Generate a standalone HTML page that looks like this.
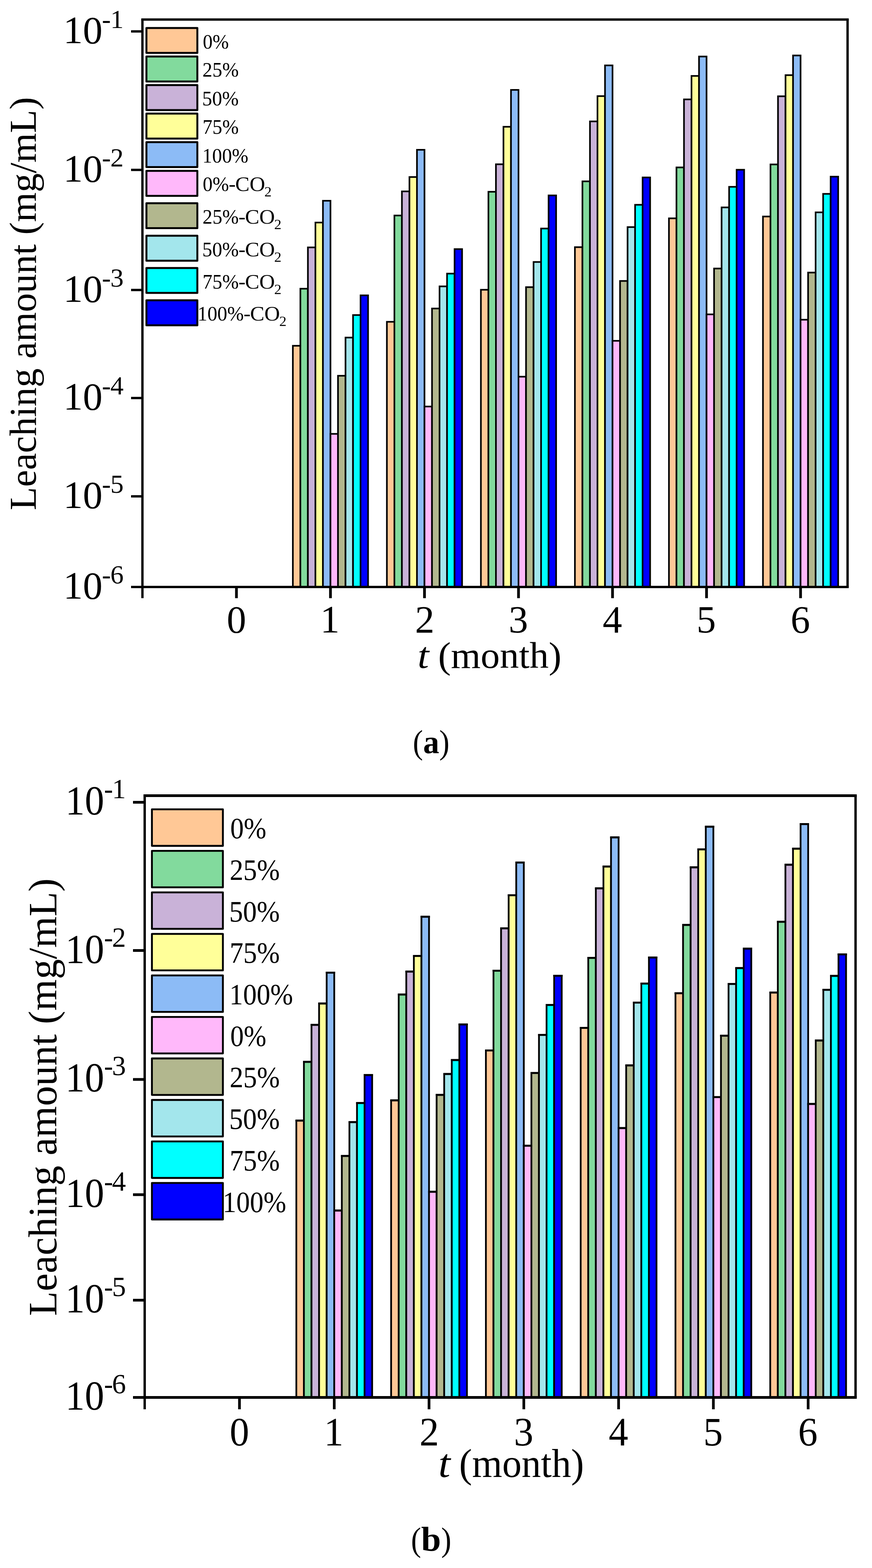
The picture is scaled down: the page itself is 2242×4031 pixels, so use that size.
<!DOCTYPE html>
<html lang="en"><head><meta charset="utf-8"><title>Leaching amount</title>
<style>
html,body{margin:0;padding:0;background:#fff;}
body{width:2242px;height:4031px;overflow:hidden;}
svg{display:block;}
text{white-space:pre;}
</style></head><body>
<svg width="2242" height="4031" viewBox="0 0 2242 4031" font-family="'Liberation Serif', serif" fill="#000" shape-rendering="auto">
<rect width="2242" height="4031" fill="#fff"/>
<rect x="752.97" y="888.9" width="19.34" height="620.1" fill="#FFC896" stroke="#000" stroke-width="4.2"/>
<rect x="772.31" y="742.2" width="19.34" height="766.8" fill="#82DA9D" stroke="#000" stroke-width="4.2"/>
<rect x="791.65" y="636" width="19.34" height="873" fill="#C9B2D8" stroke="#000" stroke-width="4.2"/>
<rect x="810.99" y="572.1" width="19.34" height="936.9" fill="#FFFF99" stroke="#000" stroke-width="4.2"/>
<rect x="830.33" y="516.1" width="19.34" height="992.9" fill="#8CBBF6" stroke="#000" stroke-width="4.2"/>
<rect x="849.67" y="1115.4" width="19.34" height="393.6" fill="#FFB8FA" stroke="#000" stroke-width="4.2"/>
<rect x="869.01" y="966" width="19.34" height="543" fill="#B2B78E" stroke="#000" stroke-width="4.2"/>
<rect x="888.34" y="867.8" width="19.34" height="641.2" fill="#A3E6EC" stroke="#000" stroke-width="4.2"/>
<rect x="907.68" y="809.9" width="19.34" height="699.1" fill="#00FFFF" stroke="#000" stroke-width="4.2"/>
<rect x="927.02" y="759.3" width="19.34" height="749.7" fill="#0000FF" stroke="#000" stroke-width="4.2"/>
<rect x="994.71" y="827.3" width="19.34" height="681.7" fill="#FFC896" stroke="#000" stroke-width="4.2"/>
<rect x="1014.05" y="554" width="19.34" height="955" fill="#82DA9D" stroke="#000" stroke-width="4.2"/>
<rect x="1033.38" y="492" width="19.34" height="1017" fill="#C9B2D8" stroke="#000" stroke-width="4.2"/>
<rect x="1052.72" y="455.1" width="19.34" height="1053.9" fill="#FFFF99" stroke="#000" stroke-width="4.2"/>
<rect x="1072.06" y="385.1" width="19.34" height="1123.9" fill="#8CBBF6" stroke="#000" stroke-width="4.2"/>
<rect x="1091.4" y="1045.1" width="19.34" height="463.9" fill="#FFB8FA" stroke="#000" stroke-width="4.2"/>
<rect x="1110.74" y="793.1" width="19.34" height="715.9" fill="#B2B78E" stroke="#000" stroke-width="4.2"/>
<rect x="1130.08" y="736.2" width="19.34" height="772.8" fill="#A3E6EC" stroke="#000" stroke-width="4.2"/>
<rect x="1149.42" y="703.4" width="19.34" height="805.6" fill="#00FFFF" stroke="#000" stroke-width="4.2"/>
<rect x="1168.75" y="640.4" width="19.34" height="868.6" fill="#0000FF" stroke="#000" stroke-width="4.2"/>
<rect x="1236.44" y="744.9" width="19.34" height="764.1" fill="#FFC896" stroke="#000" stroke-width="4.2"/>
<rect x="1255.78" y="493" width="19.34" height="1016" fill="#82DA9D" stroke="#000" stroke-width="4.2"/>
<rect x="1275.12" y="422.3" width="19.34" height="1086.7" fill="#C9B2D8" stroke="#000" stroke-width="4.2"/>
<rect x="1294.46" y="325.9" width="19.34" height="1183.1" fill="#FFFF99" stroke="#000" stroke-width="4.2"/>
<rect x="1313.79" y="231.1" width="19.34" height="1277.9" fill="#8CBBF6" stroke="#000" stroke-width="4.2"/>
<rect x="1333.13" y="968.4" width="19.34" height="540.6" fill="#FFB8FA" stroke="#000" stroke-width="4.2"/>
<rect x="1352.47" y="738.2" width="19.34" height="770.8" fill="#B2B78E" stroke="#000" stroke-width="4.2"/>
<rect x="1371.81" y="673.5" width="19.34" height="835.5" fill="#A3E6EC" stroke="#000" stroke-width="4.2"/>
<rect x="1391.15" y="587.5" width="19.34" height="921.5" fill="#00FFFF" stroke="#000" stroke-width="4.2"/>
<rect x="1410.49" y="502.4" width="19.34" height="1006.6" fill="#0000FF" stroke="#000" stroke-width="4.2"/>
<rect x="1478.17" y="635.4" width="19.34" height="873.6" fill="#FFC896" stroke="#000" stroke-width="4.2"/>
<rect x="1497.51" y="466.2" width="19.34" height="1042.8" fill="#82DA9D" stroke="#000" stroke-width="4.2"/>
<rect x="1516.85" y="312.1" width="19.34" height="1196.9" fill="#C9B2D8" stroke="#000" stroke-width="4.2"/>
<rect x="1536.19" y="247.1" width="19.34" height="1261.9" fill="#FFFF99" stroke="#000" stroke-width="4.2"/>
<rect x="1555.53" y="168.1" width="19.34" height="1340.9" fill="#8CBBF6" stroke="#000" stroke-width="4.2"/>
<rect x="1574.87" y="876.2" width="19.34" height="632.8" fill="#FFB8FA" stroke="#000" stroke-width="4.2"/>
<rect x="1594.21" y="722.3" width="19.34" height="786.7" fill="#B2B78E" stroke="#000" stroke-width="4.2"/>
<rect x="1613.54" y="583.8" width="19.34" height="925.2" fill="#A3E6EC" stroke="#000" stroke-width="4.2"/>
<rect x="1632.88" y="526.5" width="19.34" height="982.5" fill="#00FFFF" stroke="#000" stroke-width="4.2"/>
<rect x="1652.22" y="456.2" width="19.34" height="1052.8" fill="#0000FF" stroke="#000" stroke-width="4.2"/>
<rect x="1719.91" y="561.3" width="19.34" height="947.7" fill="#FFC896" stroke="#000" stroke-width="4.2"/>
<rect x="1739.25" y="430.4" width="19.34" height="1078.6" fill="#82DA9D" stroke="#000" stroke-width="4.2"/>
<rect x="1758.58" y="255.5" width="19.34" height="1253.5" fill="#C9B2D8" stroke="#000" stroke-width="4.2"/>
<rect x="1777.92" y="195.2" width="19.34" height="1313.8" fill="#FFFF99" stroke="#000" stroke-width="4.2"/>
<rect x="1797.26" y="145.3" width="19.34" height="1363.7" fill="#8CBBF6" stroke="#000" stroke-width="4.2"/>
<rect x="1816.6" y="808.2" width="19.34" height="700.8" fill="#FFB8FA" stroke="#000" stroke-width="4.2"/>
<rect x="1835.94" y="690.3" width="19.34" height="818.7" fill="#B2B78E" stroke="#000" stroke-width="4.2"/>
<rect x="1855.28" y="533.2" width="19.34" height="975.8" fill="#A3E6EC" stroke="#000" stroke-width="4.2"/>
<rect x="1874.62" y="480.3" width="19.34" height="1028.7" fill="#00FFFF" stroke="#000" stroke-width="4.2"/>
<rect x="1893.95" y="436.4" width="19.34" height="1072.6" fill="#0000FF" stroke="#000" stroke-width="4.2"/>
<rect x="1961.64" y="556.6" width="19.34" height="952.4" fill="#FFC896" stroke="#000" stroke-width="4.2"/>
<rect x="1980.98" y="422.7" width="19.34" height="1086.3" fill="#82DA9D" stroke="#000" stroke-width="4.2"/>
<rect x="2000.32" y="247.5" width="19.34" height="1261.5" fill="#C9B2D8" stroke="#000" stroke-width="4.2"/>
<rect x="2019.66" y="193.2" width="19.34" height="1315.8" fill="#FFFF99" stroke="#000" stroke-width="4.2"/>
<rect x="2038.99" y="142.6" width="19.34" height="1366.4" fill="#8CBBF6" stroke="#000" stroke-width="4.2"/>
<rect x="2058.33" y="821.9" width="19.34" height="687.1" fill="#FFB8FA" stroke="#000" stroke-width="4.2"/>
<rect x="2077.67" y="700.7" width="19.34" height="808.3" fill="#B2B78E" stroke="#000" stroke-width="4.2"/>
<rect x="2097.01" y="545.9" width="19.34" height="963.1" fill="#A3E6EC" stroke="#000" stroke-width="4.2"/>
<rect x="2116.35" y="498.4" width="19.34" height="1010.6" fill="#00FFFF" stroke="#000" stroke-width="4.2"/>
<rect x="2135.69" y="454.1" width="19.34" height="1054.9" fill="#0000FF" stroke="#000" stroke-width="4.2"/>
<path d="M363.2 50.2H2182.2M363.2 1509H2182.2" stroke="#000" stroke-width="5.9" fill="none"/>
<path d="M366.2 50.2V1509M2179.2 50.2V1509" stroke="#000" stroke-width="6" fill="none"/>
<path d="M337 80.8H366.2 M337 436.8H366.2 M337 745.6H366.2 M337 1023.2H366.2 M337 1275.9H366.2 M337 1509H366.2" stroke="#000" stroke-width="6" fill="none"/>
<path d="M607.93 1509V1537.7 M849.67 1509V1537.7 M1091.4 1509V1537.7 M1333.13 1509V1537.7 M1574.87 1509V1537.7 M1816.6 1509V1537.7 M2058.33 1509V1537.7" stroke="#000" stroke-width="7" fill="none"/>
<path d="M366.2 1509V1537.7" stroke="#000" stroke-width="6" fill="none"/>
<text><tspan x="162.55" y="111" font-size="100.2" textLength="101.14" lengthAdjust="spacingAndGlyphs">10</tspan><tspan x="262.12" y="71.9" font-size="68.2" textLength="22.93" lengthAdjust="spacingAndGlyphs">-</tspan><tspan x="283.8" y="71.9" font-size="68.2">1</tspan></text>
<text><tspan x="162.55" y="467" font-size="100.2" textLength="101.14" lengthAdjust="spacingAndGlyphs">10</tspan><tspan x="262.12" y="427.9" font-size="68.2" textLength="22.93" lengthAdjust="spacingAndGlyphs">-</tspan><tspan x="283.8" y="427.9" font-size="68.2">2</tspan></text>
<text><tspan x="162.55" y="776" font-size="100.2" textLength="101.14" lengthAdjust="spacingAndGlyphs">10</tspan><tspan x="262.12" y="736.9" font-size="68.2" textLength="22.93" lengthAdjust="spacingAndGlyphs">-</tspan><tspan x="283.8" y="736.9" font-size="68.2">3</tspan></text>
<text><tspan x="162.55" y="1053" font-size="100.2" textLength="101.14" lengthAdjust="spacingAndGlyphs">10</tspan><tspan x="262.12" y="1013.9" font-size="68.2" textLength="22.93" lengthAdjust="spacingAndGlyphs">-</tspan><tspan x="283.8" y="1013.9" font-size="68.2">4</tspan></text>
<text><tspan x="162.55" y="1306" font-size="100.2" textLength="101.14" lengthAdjust="spacingAndGlyphs">10</tspan><tspan x="262.12" y="1266.9" font-size="68.2" textLength="22.93" lengthAdjust="spacingAndGlyphs">-</tspan><tspan x="283.8" y="1266.9" font-size="68.2">5</tspan></text>
<text><tspan x="162.55" y="1539" font-size="100.2" textLength="101.14" lengthAdjust="spacingAndGlyphs">10</tspan><tspan x="262.12" y="1499.9" font-size="68.2" textLength="22.93" lengthAdjust="spacingAndGlyphs">-</tspan><tspan x="283.8" y="1499.9" font-size="68.2">6</tspan></text>
<text transform="translate(582.93 1626) scale(1.0000 1.0000)" font-size="100">0</text>
<text transform="translate(823.29 1626) scale(1.0000 1.0000)" font-size="100">1</text>
<text transform="translate(1067.02 1626) scale(1.0000 1.0000)" font-size="100">2</text>
<text transform="translate(1307.76 1626) scale(1.0000 1.0000)" font-size="100">3</text>
<text transform="translate(1549.62 1626) scale(1.0000 1.0000)" font-size="100">4</text>
<text transform="translate(1790.72 1626) scale(1.0000 1.0000)" font-size="100">5</text>
<text transform="translate(2032.71 1626) scale(1.0000 1.0000)" font-size="100">6</text>
<text transform="translate(92 1311.8) rotate(-90) scale(1.0012 1)" font-size="98">Leaching amount (mg/mL)</text>
<text><tspan x="1073.64" y="1717.3" font-size="96" font-style="italic" textLength="29.38" lengthAdjust="spacingAndGlyphs">t</tspan><tspan x="1101.81" y="1717.3" font-size="96" textLength="341.75" lengthAdjust="spacingAndGlyphs"> (month)</tspan></text>
<text><tspan x="1061.57" y="1936.7" font-size="86.2" textLength="26.12" lengthAdjust="spacingAndGlyphs">(</tspan><tspan x="1088.11" y="1936.3" font-size="85" font-weight="bold" textLength="41.33" lengthAdjust="spacingAndGlyphs">a</tspan><tspan x="1129.23" y="1936.7" font-size="86.2" textLength="26.38" lengthAdjust="spacingAndGlyphs">)</tspan></text>
<rect x="376.5" y="71.9" width="130.9" height="64.2" fill="#FFC896" stroke="#000" stroke-width="5" stroke-linejoin="round"/>
<rect x="376.5" y="145.3" width="130.9" height="64.2" fill="#82DA9D" stroke="#000" stroke-width="5" stroke-linejoin="round"/>
<rect x="376.5" y="218.7" width="130.9" height="64.2" fill="#C9B2D8" stroke="#000" stroke-width="5" stroke-linejoin="round"/>
<rect x="376.5" y="292.1" width="130.9" height="64.1" fill="#FFFF99" stroke="#000" stroke-width="5" stroke-linejoin="round"/>
<rect x="376.5" y="365.5" width="130.9" height="64" fill="#8CBBF6" stroke="#000" stroke-width="5" stroke-linejoin="round"/>
<rect x="376.5" y="439.2" width="130.9" height="64.3" fill="#FFB8FA" stroke="#000" stroke-width="5" stroke-linejoin="round"/>
<rect x="376.5" y="522.5" width="130.9" height="64" fill="#B2B78E" stroke="#000" stroke-width="5" stroke-linejoin="round"/>
<rect x="376.5" y="606" width="130.9" height="64.2" fill="#A3E6EC" stroke="#000" stroke-width="5" stroke-linejoin="round"/>
<rect x="376.5" y="688.9" width="130.9" height="64.2" fill="#00FFFF" stroke="#000" stroke-width="5" stroke-linejoin="round"/>
<rect x="376.5" y="772" width="130.9" height="64.3" fill="#0000FF" stroke="#000" stroke-width="5" stroke-linejoin="round"/>
<text transform="translate(521.42 124.8) scale(0.9511 1.0000)" font-size="52.8">0%</text>
<text transform="translate(520.54 196.8) scale(0.9634 1.0000)" font-size="52.8">25%</text>
<text transform="translate(519.75 271.4) scale(0.9717 1.0000)" font-size="52.8">50%</text>
<text transform="translate(520.7 343.9) scale(0.9617 1.0000)" font-size="52.8">75%</text>
<text transform="translate(520.26 418.2) scale(0.9605 1.0000)" font-size="52.8">100%</text>
<text><tspan x="521.3" y="491" font-size="52.8" textLength="67.47" lengthAdjust="spacingAndGlyphs">0%</tspan><tspan x="588.08" y="491" font-size="52.8" textLength="17.93" lengthAdjust="spacingAndGlyphs">-</tspan><tspan x="604.89" y="491" font-size="52.8" textLength="76.78" lengthAdjust="spacingAndGlyphs">CO</tspan><tspan x="679.82" y="505" font-size="36" textLength="18.63" lengthAdjust="spacingAndGlyphs">2</tspan></text>
<text><tspan x="520.84" y="574.8" font-size="52.8" textLength="93.03" lengthAdjust="spacingAndGlyphs">25%</tspan><tspan x="613.18" y="574.8" font-size="52.8" textLength="17.93" lengthAdjust="spacingAndGlyphs">-</tspan><tspan x="629.99" y="574.8" font-size="52.8" textLength="76.78" lengthAdjust="spacingAndGlyphs">CO</tspan><tspan x="704.92" y="588.8" font-size="36" textLength="18.63" lengthAdjust="spacingAndGlyphs">2</tspan></text>
<text><tspan x="520.06" y="658.6" font-size="52.8" textLength="93.83" lengthAdjust="spacingAndGlyphs">50%</tspan><tspan x="613.18" y="658.6" font-size="52.8" textLength="17.93" lengthAdjust="spacingAndGlyphs">-</tspan><tspan x="629.99" y="658.6" font-size="52.8" textLength="76.78" lengthAdjust="spacingAndGlyphs">CO</tspan><tspan x="704.92" y="672.6" font-size="36" textLength="18.63" lengthAdjust="spacingAndGlyphs">2</tspan></text>
<text><tspan x="520.7" y="741.5" font-size="52.8" textLength="93.18" lengthAdjust="spacingAndGlyphs">75%</tspan><tspan x="613.18" y="741.5" font-size="52.8" textLength="17.93" lengthAdjust="spacingAndGlyphs">-</tspan><tspan x="629.99" y="741.5" font-size="52.8" textLength="76.78" lengthAdjust="spacingAndGlyphs">CO</tspan><tspan x="704.92" y="755.5" font-size="36" textLength="18.63" lengthAdjust="spacingAndGlyphs">2</tspan></text>
<text><tspan x="507.84" y="824.1" font-size="52.8" textLength="119.05" lengthAdjust="spacingAndGlyphs">100%</tspan><tspan x="626.18" y="824.1" font-size="52.8" textLength="17.93" lengthAdjust="spacingAndGlyphs">-</tspan><tspan x="642.99" y="824.1" font-size="52.8" textLength="76.78" lengthAdjust="spacingAndGlyphs">CO</tspan><tspan x="717.92" y="838.1" font-size="36" textLength="18.63" lengthAdjust="spacingAndGlyphs">2</tspan></text>
<rect x="761.91" y="2880.65" width="19.5" height="711.85" fill="#FFC896" stroke="#000" stroke-width="4.5"/>
<rect x="759.66" y="2878.4" width="24" height="5"/>
<rect x="781.4" y="2729.65" width="19.5" height="862.85" fill="#82DA9D" stroke="#000" stroke-width="4.5"/>
<rect x="779.15" y="2727.4" width="24" height="5"/>
<rect x="800.9" y="2634.55" width="19.5" height="957.95" fill="#C9B2D8" stroke="#000" stroke-width="4.5"/>
<rect x="798.65" y="2632.3" width="24" height="5"/>
<rect x="820.4" y="2579.65" width="19.5" height="1012.85" fill="#FFFF99" stroke="#000" stroke-width="4.5"/>
<rect x="818.15" y="2577.4" width="24" height="5"/>
<rect x="839.89" y="2500.25" width="19.5" height="1092.25" fill="#8CBBF6" stroke="#000" stroke-width="4.5"/>
<rect x="837.64" y="2498" width="24" height="5"/>
<rect x="859.39" y="3111.85" width="19.5" height="480.65" fill="#FFB8FA" stroke="#000" stroke-width="4.5"/>
<rect x="857.14" y="3109.6" width="24" height="5"/>
<rect x="878.88" y="2971.55" width="19.5" height="620.95" fill="#B2B78E" stroke="#000" stroke-width="4.5"/>
<rect x="876.63" y="2969.3" width="24" height="5"/>
<rect x="898.38" y="2884.55" width="19.5" height="707.95" fill="#A3E6EC" stroke="#000" stroke-width="4.5"/>
<rect x="896.13" y="2882.3" width="24" height="5"/>
<rect x="917.87" y="2835.45" width="19.5" height="757.05" fill="#00FFFF" stroke="#000" stroke-width="4.5"/>
<rect x="915.62" y="2833.2" width="24" height="5"/>
<rect x="937.37" y="2763.55" width="19.5" height="828.95" fill="#0000FF" stroke="#000" stroke-width="4.5"/>
<rect x="935.12" y="2761.3" width="24" height="5"/>
<rect x="1005.6" y="2828.65" width="19.5" height="763.85" fill="#FFC896" stroke="#000" stroke-width="4.5"/>
<rect x="1003.35" y="2826.4" width="24" height="5"/>
<rect x="1025.1" y="2556.55" width="19.5" height="1035.95" fill="#82DA9D" stroke="#000" stroke-width="4.5"/>
<rect x="1022.85" y="2554.3" width="24" height="5"/>
<rect x="1044.59" y="2497.55" width="19.5" height="1094.95" fill="#C9B2D8" stroke="#000" stroke-width="4.5"/>
<rect x="1042.34" y="2495.3" width="24" height="5"/>
<rect x="1064.09" y="2457.35" width="19.5" height="1135.15" fill="#FFFF99" stroke="#000" stroke-width="4.5"/>
<rect x="1061.84" y="2455.1" width="24" height="5"/>
<rect x="1083.58" y="2356.55" width="19.5" height="1235.95" fill="#8CBBF6" stroke="#000" stroke-width="4.5"/>
<rect x="1081.33" y="2354.3" width="24" height="5"/>
<rect x="1103.08" y="3063.65" width="19.5" height="528.85" fill="#FFB8FA" stroke="#000" stroke-width="4.5"/>
<rect x="1100.83" y="3061.4" width="24" height="5"/>
<rect x="1122.58" y="2814.55" width="19.5" height="777.95" fill="#B2B78E" stroke="#000" stroke-width="4.5"/>
<rect x="1120.33" y="2812.3" width="24" height="5"/>
<rect x="1142.07" y="2760.85" width="19.5" height="831.65" fill="#A3E6EC" stroke="#000" stroke-width="4.5"/>
<rect x="1139.82" y="2758.6" width="24" height="5"/>
<rect x="1161.57" y="2724.95" width="19.5" height="867.55" fill="#00FFFF" stroke="#000" stroke-width="4.5"/>
<rect x="1159.32" y="2722.7" width="24" height="5"/>
<rect x="1181.06" y="2633.55" width="19.5" height="958.95" fill="#0000FF" stroke="#000" stroke-width="4.5"/>
<rect x="1178.81" y="2631.3" width="24" height="5"/>
<rect x="1249.3" y="2700.25" width="19.5" height="892.25" fill="#FFC896" stroke="#000" stroke-width="4.5"/>
<rect x="1247.05" y="2698" width="24" height="5"/>
<rect x="1268.79" y="2495.25" width="19.5" height="1097.25" fill="#82DA9D" stroke="#000" stroke-width="4.5"/>
<rect x="1266.54" y="2493" width="24" height="5"/>
<rect x="1288.29" y="2386.35" width="19.5" height="1206.15" fill="#C9B2D8" stroke="#000" stroke-width="4.5"/>
<rect x="1286.04" y="2384.1" width="24" height="5"/>
<rect x="1307.78" y="2301.25" width="19.5" height="1291.25" fill="#FFFF99" stroke="#000" stroke-width="4.5"/>
<rect x="1305.53" y="2299" width="24" height="5"/>
<rect x="1327.28" y="2217.15" width="19.5" height="1375.35" fill="#8CBBF6" stroke="#000" stroke-width="4.5"/>
<rect x="1325.03" y="2214.9" width="24" height="5"/>
<rect x="1346.77" y="2945.15" width="19.5" height="647.35" fill="#FFB8FA" stroke="#000" stroke-width="4.5"/>
<rect x="1344.52" y="2942.9" width="24" height="5"/>
<rect x="1366.27" y="2758.15" width="19.5" height="834.35" fill="#B2B78E" stroke="#000" stroke-width="4.5"/>
<rect x="1364.02" y="2755.9" width="24" height="5"/>
<rect x="1385.76" y="2660.35" width="19.5" height="932.15" fill="#A3E6EC" stroke="#000" stroke-width="4.5"/>
<rect x="1383.51" y="2658.1" width="24" height="5"/>
<rect x="1405.26" y="2583.35" width="19.5" height="1009.15" fill="#00FFFF" stroke="#000" stroke-width="4.5"/>
<rect x="1403.01" y="2581.1" width="24" height="5"/>
<rect x="1424.76" y="2508.25" width="19.5" height="1084.25" fill="#0000FF" stroke="#000" stroke-width="4.5"/>
<rect x="1422.51" y="2506" width="24" height="5"/>
<rect x="1492.99" y="2642.25" width="19.5" height="950.25" fill="#FFC896" stroke="#000" stroke-width="4.5"/>
<rect x="1490.74" y="2640" width="24" height="5"/>
<rect x="1512.48" y="2462.35" width="19.5" height="1130.15" fill="#82DA9D" stroke="#000" stroke-width="4.5"/>
<rect x="1510.23" y="2460.1" width="24" height="5"/>
<rect x="1531.98" y="2283.55" width="19.5" height="1308.95" fill="#C9B2D8" stroke="#000" stroke-width="4.5"/>
<rect x="1529.73" y="2281.3" width="24" height="5"/>
<rect x="1551.48" y="2227.55" width="19.5" height="1364.95" fill="#FFFF99" stroke="#000" stroke-width="4.5"/>
<rect x="1549.23" y="2225.3" width="24" height="5"/>
<rect x="1570.97" y="2152.55" width="19.5" height="1439.95" fill="#8CBBF6" stroke="#000" stroke-width="4.5"/>
<rect x="1568.72" y="2150.3" width="24" height="5"/>
<rect x="1590.47" y="2899.85" width="19.5" height="692.65" fill="#FFB8FA" stroke="#000" stroke-width="4.5"/>
<rect x="1588.22" y="2897.6" width="24" height="5"/>
<rect x="1609.96" y="2738.75" width="19.5" height="853.75" fill="#B2B78E" stroke="#000" stroke-width="4.5"/>
<rect x="1607.71" y="2736.5" width="24" height="5"/>
<rect x="1629.46" y="2577.25" width="19.5" height="1015.25" fill="#A3E6EC" stroke="#000" stroke-width="4.5"/>
<rect x="1627.21" y="2575" width="24" height="5"/>
<rect x="1648.95" y="2528.35" width="19.5" height="1064.15" fill="#00FFFF" stroke="#000" stroke-width="4.5"/>
<rect x="1646.7" y="2526.1" width="24" height="5"/>
<rect x="1668.45" y="2461.35" width="19.5" height="1131.15" fill="#0000FF" stroke="#000" stroke-width="4.5"/>
<rect x="1666.2" y="2459.1" width="24" height="5"/>
<rect x="1736.68" y="2553.15" width="19.5" height="1039.35" fill="#FFC896" stroke="#000" stroke-width="4.5"/>
<rect x="1734.43" y="2550.9" width="24" height="5"/>
<rect x="1756.18" y="2377.65" width="19.5" height="1214.85" fill="#82DA9D" stroke="#000" stroke-width="4.5"/>
<rect x="1753.93" y="2375.4" width="24" height="5"/>
<rect x="1775.67" y="2229.55" width="19.5" height="1362.95" fill="#C9B2D8" stroke="#000" stroke-width="4.5"/>
<rect x="1773.42" y="2227.3" width="24" height="5"/>
<rect x="1795.17" y="2183.35" width="19.5" height="1409.15" fill="#FFFF99" stroke="#000" stroke-width="4.5"/>
<rect x="1792.92" y="2181.1" width="24" height="5"/>
<rect x="1814.66" y="2125.05" width="19.5" height="1467.45" fill="#8CBBF6" stroke="#000" stroke-width="4.5"/>
<rect x="1812.41" y="2122.8" width="24" height="5"/>
<rect x="1834.16" y="2820.15" width="19.5" height="772.35" fill="#FFB8FA" stroke="#000" stroke-width="4.5"/>
<rect x="1831.91" y="2817.9" width="24" height="5"/>
<rect x="1853.66" y="2662.35" width="19.5" height="930.15" fill="#B2B78E" stroke="#000" stroke-width="4.5"/>
<rect x="1851.41" y="2660.1" width="24" height="5"/>
<rect x="1873.15" y="2529.35" width="19.5" height="1063.15" fill="#A3E6EC" stroke="#000" stroke-width="4.5"/>
<rect x="1870.9" y="2527.1" width="24" height="5"/>
<rect x="1892.65" y="2488.55" width="19.5" height="1103.95" fill="#00FFFF" stroke="#000" stroke-width="4.5"/>
<rect x="1890.4" y="2486.3" width="24" height="5"/>
<rect x="1912.14" y="2438.65" width="19.5" height="1153.85" fill="#0000FF" stroke="#000" stroke-width="4.5"/>
<rect x="1909.89" y="2436.4" width="24" height="5"/>
<rect x="1980.38" y="2551.45" width="19.5" height="1041.05" fill="#FFC896" stroke="#000" stroke-width="4.5"/>
<rect x="1978.13" y="2549.2" width="24" height="5"/>
<rect x="1999.87" y="2369.55" width="19.5" height="1222.95" fill="#82DA9D" stroke="#000" stroke-width="4.5"/>
<rect x="1997.62" y="2367.3" width="24" height="5"/>
<rect x="2019.37" y="2222.85" width="19.5" height="1369.65" fill="#C9B2D8" stroke="#000" stroke-width="4.5"/>
<rect x="2017.12" y="2220.6" width="24" height="5"/>
<rect x="2038.86" y="2181.65" width="19.5" height="1410.85" fill="#FFFF99" stroke="#000" stroke-width="4.5"/>
<rect x="2036.61" y="2179.4" width="24" height="5"/>
<rect x="2058.36" y="2118.35" width="19.5" height="1474.15" fill="#8CBBF6" stroke="#000" stroke-width="4.5"/>
<rect x="2056.11" y="2116.1" width="24" height="5"/>
<rect x="2077.85" y="2837.85" width="19.5" height="754.65" fill="#FFB8FA" stroke="#000" stroke-width="4.5"/>
<rect x="2075.6" y="2835.6" width="24" height="5"/>
<rect x="2097.35" y="2674.75" width="19.5" height="917.75" fill="#B2B78E" stroke="#000" stroke-width="4.5"/>
<rect x="2095.1" y="2672.5" width="24" height="5"/>
<rect x="2116.84" y="2544.45" width="19.5" height="1048.05" fill="#A3E6EC" stroke="#000" stroke-width="4.5"/>
<rect x="2114.59" y="2542.2" width="24" height="5"/>
<rect x="2136.34" y="2508.65" width="19.5" height="1083.85" fill="#00FFFF" stroke="#000" stroke-width="4.5"/>
<rect x="2134.09" y="2506.4" width="24" height="5"/>
<rect x="2155.84" y="2453.35" width="19.5" height="1139.15" fill="#0000FF" stroke="#000" stroke-width="4.5"/>
<rect x="2153.59" y="2451.1" width="24" height="5"/>
<path d="M368.95 2045.45H2202.75M368.95 3592.5H2202.75" stroke="#000" stroke-width="7" fill="none"/>
<path d="M372 2045.45V3592.5M2199.7 2045.45V3592.5" stroke="#000" stroke-width="6.1" fill="none"/>
<path d="M342 2062.6H372 M342 2443.5H372 M342 2775H372 M342 3071.3H372 M342 3342.5H372 M342 3592.5H372" stroke="#000" stroke-width="7" fill="none"/>
<path d="M615.69 3592.5V3623 M859.39 3592.5V3623 M1103.08 3592.5V3623 M1346.77 3592.5V3623 M1590.47 3592.5V3623 M1834.16 3592.5V3623 M2077.85 3592.5V3623" stroke="#000" stroke-width="6.9" fill="none"/>
<path d="M372 3592.5V3623" stroke="#000" stroke-width="6.1" fill="none"/>
<text><tspan x="168.07" y="2094" font-size="106" textLength="99.77" lengthAdjust="spacingAndGlyphs">10</tspan><tspan x="267.4" y="2052.2" font-size="71.5" textLength="23.05" lengthAdjust="spacingAndGlyphs">-</tspan><tspan x="288" y="2052.2" font-size="71.5">1</tspan></text>
<text><tspan x="168.07" y="2476" font-size="106" textLength="99.77" lengthAdjust="spacingAndGlyphs">10</tspan><tspan x="267.4" y="2434.2" font-size="71.5" textLength="23.05" lengthAdjust="spacingAndGlyphs">-</tspan><tspan x="288" y="2434.2" font-size="71.5">2</tspan></text>
<text><tspan x="168.07" y="2806" font-size="106" textLength="99.77" lengthAdjust="spacingAndGlyphs">10</tspan><tspan x="267.4" y="2764.2" font-size="71.5" textLength="23.05" lengthAdjust="spacingAndGlyphs">-</tspan><tspan x="288" y="2764.2" font-size="71.5">3</tspan></text>
<text><tspan x="168.07" y="3103" font-size="106" textLength="99.77" lengthAdjust="spacingAndGlyphs">10</tspan><tspan x="267.4" y="3061.2" font-size="71.5" textLength="23.05" lengthAdjust="spacingAndGlyphs">-</tspan><tspan x="288" y="3061.2" font-size="71.5">4</tspan></text>
<text><tspan x="168.07" y="3374" font-size="106" textLength="99.77" lengthAdjust="spacingAndGlyphs">10</tspan><tspan x="267.4" y="3332.2" font-size="71.5" textLength="23.05" lengthAdjust="spacingAndGlyphs">-</tspan><tspan x="288" y="3332.2" font-size="71.5">5</tspan></text>
<text><tspan x="168.07" y="3624" font-size="106" textLength="99.77" lengthAdjust="spacingAndGlyphs">10</tspan><tspan x="267.4" y="3582.2" font-size="71.5" textLength="23.05" lengthAdjust="spacingAndGlyphs">-</tspan><tspan x="288" y="3582.2" font-size="71.5">6</tspan></text>
<text transform="translate(590.59 3715.6) scale(0.9600 1.0000)" font-size="104.6">0</text>
<text transform="translate(832.9 3715.6) scale(0.9600 1.0000)" font-size="104.6">1</text>
<text transform="translate(1078.6 3715.6) scale(0.9600 1.0000)" font-size="104.6">2</text>
<text transform="translate(1321.29 3715.6) scale(0.9600 1.0000)" font-size="104.6">3</text>
<text transform="translate(1565.11 3715.6) scale(0.9600 1.0000)" font-size="104.6">4</text>
<text transform="translate(1808.18 3715.6) scale(0.9600 1.0000)" font-size="104.6">5</text>
<text transform="translate(2052.12 3715.6) scale(0.9600 1.0000)" font-size="104.6">6</text>
<text transform="translate(145.1 3382.96) rotate(-90) scale(0.9989 1)" font-size="104">Leaching amount (mg/mL)</text>
<text><tspan x="1127.09" y="3797.3" font-size="104" font-style="italic" textLength="30.92" lengthAdjust="spacingAndGlyphs">t</tspan><tspan x="1155.66" y="3797.3" font-size="104" textLength="345.84" lengthAdjust="spacingAndGlyphs"> (month)</tspan></text>
<text><tspan x="1056.68" y="3986.9" font-size="87" textLength="25.99" lengthAdjust="spacingAndGlyphs">(</tspan><tspan x="1082.85" y="3986.9" font-size="89.8" font-weight="bold" textLength="51.02" lengthAdjust="spacingAndGlyphs">b</tspan><tspan x="1134.15" y="3986.9" font-size="87" textLength="26.12" lengthAdjust="spacingAndGlyphs">)</tspan></text>
<rect x="390.6" y="2080.7" width="182.5" height="93.8" fill="#FFC896" stroke="#000" stroke-width="4.8" stroke-linejoin="round"/>
<rect x="390.6" y="2187.42" width="182.5" height="93.8" fill="#82DA9D" stroke="#000" stroke-width="4.8" stroke-linejoin="round"/>
<rect x="390.6" y="2294.14" width="182.5" height="93.8" fill="#C9B2D8" stroke="#000" stroke-width="4.8" stroke-linejoin="round"/>
<rect x="390.6" y="2400.86" width="182.5" height="93.8" fill="#FFFF99" stroke="#000" stroke-width="4.8" stroke-linejoin="round"/>
<rect x="390.6" y="2507.58" width="182.5" height="93.8" fill="#8CBBF6" stroke="#000" stroke-width="4.8" stroke-linejoin="round"/>
<rect x="390.6" y="2614.3" width="182.5" height="93.8" fill="#FFB8FA" stroke="#000" stroke-width="4.8" stroke-linejoin="round"/>
<rect x="390.6" y="2721.02" width="182.5" height="93.8" fill="#B2B78E" stroke="#000" stroke-width="4.8" stroke-linejoin="round"/>
<rect x="390.6" y="2827.74" width="182.5" height="93.8" fill="#A3E6EC" stroke="#000" stroke-width="4.8" stroke-linejoin="round"/>
<rect x="390.6" y="2934.46" width="182.5" height="93.8" fill="#00FFFF" stroke="#000" stroke-width="4.8" stroke-linejoin="round"/>
<rect x="390.6" y="3041.18" width="182.5" height="93.8" fill="#0000FF" stroke="#000" stroke-width="4.8" stroke-linejoin="round"/>
<text transform="translate(591.89 2155.2) scale(0.9101 1.0000)" font-size="76.5">0%</text>
<text transform="translate(590.41 2261.9) scale(0.9201 1.0000)" font-size="76.5">25%</text>
<text transform="translate(589.32 2368.6) scale(0.9280 1.0000)" font-size="76.5">50%</text>
<text transform="translate(590.43 2475.3) scale(0.9199 1.0000)" font-size="76.5">75%</text>
<text transform="translate(589.87 2582) scale(0.9158 1.0000)" font-size="76.5">100%</text>
<text transform="translate(591.89 2688.7) scale(0.9101 1.0000)" font-size="76.5">0%</text>
<text transform="translate(590.41 2795.4) scale(0.9201 1.0000)" font-size="76.5">25%</text>
<text transform="translate(589.32 2902.1) scale(0.9280 1.0000)" font-size="76.5">50%</text>
<text transform="translate(590.43 3008.8) scale(0.9199 1.0000)" font-size="76.5">75%</text>
<text transform="translate(572.47 3115.5) scale(0.9164 1.0000)" font-size="76.5">100%</text>
</svg>
</body></html>
